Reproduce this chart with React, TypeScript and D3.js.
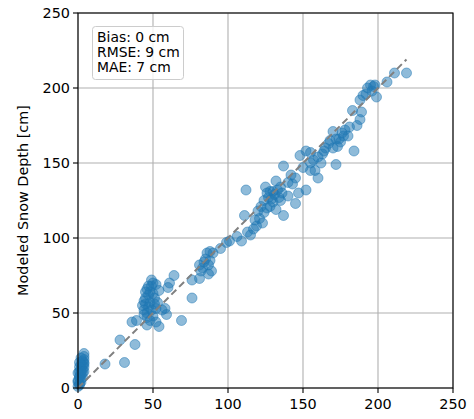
import { useEffect } from 'react';
import * as d3 from 'd3';

// observed vs modeled snow depth [cm]
const observed = [
  0, 1, 0, 1, 2, 1, 2, 3, 4, 4, 4, 4, 1, 0, 2, 1, 3, 3, 4, 4, 3, 2, 1, 2, 0, 1, 2, 3, 2, 4,
  18, 28, 31, 36, 39, 38,
  46, 44, 46, 49, 52, 54, 51, 52, 50, 54, 58, 59, 61, 64, 69, 43, 44, 45, 45, 46, 47, 47, 48, 48,
  49, 50, 50, 47, 46, 49, 51, 52, 45, 44, 48, 53, 56, 60,
  76, 76, 81, 81, 84, 86, 88, 89, 87, 90, 95, 99, 83, 82, 85, 88, 87,
  101, 106, 109, 115, 119, 124, 128, 132, 111, 137, 145, 112, 125, 130, 135, 140, 132, 118, 120, 122,
  124, 126, 127, 129, 130, 131, 133, 134, 135, 136, 128, 126, 117, 113, 121, 123,
  152, 147, 137, 142, 160, 158, 155, 162, 172, 148, 152, 155, 163, 173, 184, 168, 172, 180, 170, 176,
  178, 181, 186, 188, 189, 183, 188, 199, 195, 206, 211, 219, 165, 167, 170, 174, 175, 177, 157, 160,
  164, 192, 196, 193, 197, 190, 198, 155, 150, 145, 140, 143,
];
const modeled = [
  1, 3, 5, 7, 9, 11, 13, 15, 17, 19, 21, 23, 2, 4, 6, 8, 10, 12, 14, 16, 18, 20, 14, 16, 10, 17, 4, 7, 11, 11,
  16, 32, 17, 44, 45, 29,
  42, 58, 66, 72, 69, 65, 60, 53, 48, 41, 53, 49, 70, 75, 45, 55, 52, 56, 60, 50, 54, 62, 64, 57,
  68, 70, 63, 68, 47, 52, 56, 44, 64, 49, 45, 57, 52, 67,
  60, 72, 73, 82, 84, 90, 85, 78, 76, 90, 93, 97, 80, 78, 86, 91, 82,
  98, 101, 98, 102, 108, 117, 121, 119, 115, 115, 123, 132, 134, 131, 134, 128, 138, 112, 118, 121,
  125, 120, 127, 126, 124, 129, 132, 127, 125, 130, 131, 130, 106, 104, 113, 110,
  132, 130, 148, 142, 140, 145, 150, 150, 149, 155, 158, 157, 156, 161, 158, 165, 166, 168, 171, 170,
  172, 174, 175, 179, 184, 185, 192, 194, 202, 204, 210, 210, 160, 163, 160, 166, 164, 168, 152, 154,
  158, 196, 198, 200, 201, 195, 202, 145, 147, 140, 137, 136,
];
const ticks = [0, 50, 100, 150, 200, 250];
const statsLines = ['Bias: 0 cm', 'RMSE: 9 cm', 'MAE: 7 cm'];

const width = 474,
  height = 419;
const MARGIN = { top: 13, right: 21, bottom: 31, left: 78 };
const FONT = 'DejaVu Sans, sans-serif';

export default function App() {
  useEffect(() => {
    document.body.style.margin = '0';
  }, []);

  const boundsWidth = width - MARGIN.left - MARGIN.right;
  const boundsHeight = height - MARGIN.top - MARGIN.bottom;

  const xScale = d3.scaleLinear().domain([0, 250]).range([0, boundsWidth]);
  const yScale = d3.scaleLinear().domain([0, 250]).range([boundsHeight, 0]);

  const lo = Math.min(d3.min(observed)!, d3.min(modeled)!);
  const hi = Math.max(d3.max(observed)!, d3.max(modeled)!);

  const points = observed.map((o, i) => (
    <circle
      key={i}
      cx={xScale(o)}
      cy={yScale(modeled[i])}
      r={5}
      fill="#1f77b4"
      fillOpacity={0.5}
      stroke="#1f77b4"
      strokeOpacity={0.5}
      strokeWidth={1}
    />
  ));

  return (
    <svg width={width} height={height} style={{ display: 'block' }} fontFamily={FONT}>
      <g transform={`translate(${MARGIN.left},${MARGIN.top})`}>
        {/* grid */}
        {ticks.map(t => (
          <g key={t}>
            <line x1={xScale(t)} x2={xScale(t)} y1={0} y2={boundsHeight} stroke="#b0b0b0" strokeWidth={1.1} />
            <line x1={0} x2={boundsWidth} y1={yScale(t)} y2={yScale(t)} stroke="#b0b0b0" strokeWidth={1.1} />
          </g>
        ))}
        {points}
        <line
          x1={xScale(lo)}
          y1={yScale(lo)}
          x2={xScale(hi)}
          y2={yScale(hi)}
          stroke="#808080"
          strokeWidth={2}
          strokeDasharray="7,4"
        />
        {/* spines */}
        <rect x={0} y={0} width={boundsWidth} height={boundsHeight} fill="none" stroke="#000" strokeWidth={1.1} />
        {/* ticks */}
        {ticks.map(t => (
          <g key={'x' + t}>
            <line x1={xScale(t)} x2={xScale(t)} y1={boundsHeight} y2={boundsHeight + 5} stroke="#000" strokeWidth={1.1} />
            <text x={xScale(t)} y={boundsHeight + 21} textAnchor="middle" fontSize={14.4} fill="#000">
              {t}
            </text>
            <line x1={-5} x2={0} y1={yScale(t)} y2={yScale(t)} stroke="#000" strokeWidth={1.1} />
            <text x={-8} y={yScale(t)} dy="0.36em" textAnchor="end" fontSize={14.4} fill="#000">
              {t}
            </text>
          </g>
        ))}
        {/* stats box */}
        <rect x={14.5} y={13.5} width={91} height={53} rx={3} fill="#fff" fillOpacity={0.8} stroke="#ccc" strokeWidth={1} />
        {statsLines.map((s, i) => (
          <text key={s} x={19} y={29 + i * 15} fontSize={13.9} fill="#000">
            {s}
          </text>
        ))}
      </g>
      <text
        transform={`translate(28,${MARGIN.top + boundsHeight / 2}) rotate(-90)`}
        textAnchor="middle"
        fontSize={14.4}
        fill="#000"
      >
        Modeled Snow Depth [cm]
      </text>
    </svg>
  );
}
